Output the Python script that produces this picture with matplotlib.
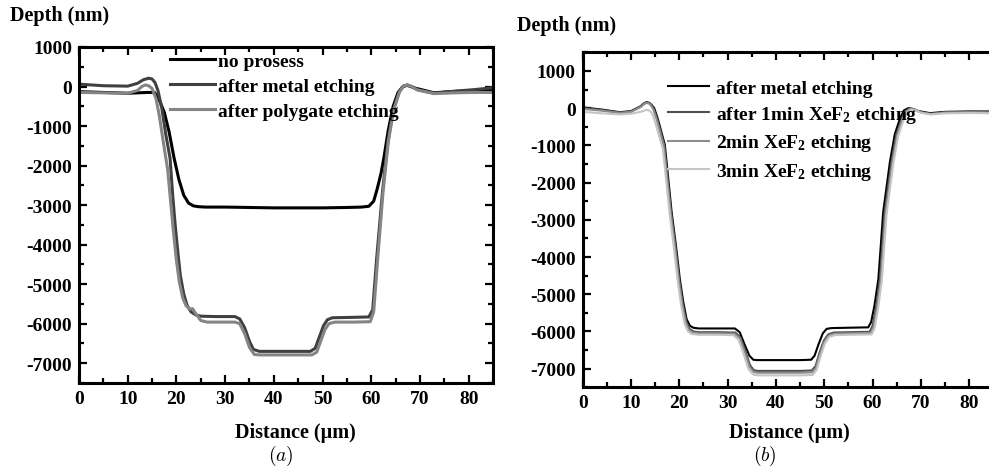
import matplotlib
matplotlib.use('Agg')
import matplotlib.pyplot as plt
from matplotlib.ticker import MultipleLocator

plt.rcParams['font.family'] = ['Liberation Serif', 'DejaVu Serif']
plt.rcParams['font.weight'] = 'bold'
plt.rcParams['axes.unicode_minus'] = False
plt.rcParams['mathtext.fontset'] = 'custom'
plt.rcParams['mathtext.rm'] = 'Liberation Serif:bold'
plt.rcParams['mathtext.bf'] = 'Liberation Serif:bold'
plt.rcParams['mathtext.it'] = 'Liberation Serif:bold:italic'

# ---- panel (a) data: depth profiles (nm) vs distance (um)
a_none_x = [0, 5, 10, 14, 15.5, 16.5, 17.5, 18.5, 19.5, 20.5, 21.5, 22.5, 23.5, 24.5, 26, 30, 35, 40, 45, 50, 55,
            58, 59.5, 60.5, 61.2, 62, 62.6, 63.5, 64.5, 65.5, 66.5, 67.4, 69, 72.9, 76, 80, 85]
a_none_y = [-130, -150, -170, -150, -150, -350, -650, -1150, -1800, -2350, -2750, -2950, -3020, -3040, -3050,
            -3050, -3060, -3070, -3070, -3070, -3060, -3050, -3030, -2900, -2600, -2200, -1800, -1100, -500,
            -150, 0, 30, -40, -160, -130, -110, -90]

a_metal_x = [0, 5, 10, 12, 13.2, 14.3, 15, 15.6, 16.2, 17, 17.8, 18.7, 19.2, 19.75, 20.3, 20.8, 21.5, 22.2, 23,
             24, 25, 28, 32, 33, 34, 35, 35.8, 37, 42, 47.5, 48.5, 49.3, 50.2, 51, 52, 56, 59.5, 60.3, 61.1,
             62.3, 63.4, 64.5, 65.7, 66.6, 67.4, 68.3, 69.5, 72.9, 77, 81, 85]
a_metal_y = [60, 20, 10, 80, 170, 210, 190, 100, -100, -550, -1200, -1820, -2700, -3510, -4200, -4780, -5250,
             -5540, -5700, -5780, -5810, -5820, -5820, -5880, -6100, -6450, -6650, -6700, -6700, -6700, -6620,
             -6350, -6050, -5900, -5850, -5840, -5830, -5650, -4360, -2670, -1400, -600, -130, 10, 40, 0, -80,
             -170, -120, -80, -30]

a_poly_x = [0, 5, 10, 12, 12.9, 13.6, 14.3, 15, 15.8, 16.5, 17.3, 18.2, 18.8, 19.4, 20, 20.6, 21.3, 22, 22.7,
            23.3, 24, 25, 26.3, 29, 32, 33, 34, 35, 36, 37, 42, 47.8, 48.8, 49.6, 50.5, 51.3, 52.5, 56, 59.8,
            60.5, 61.3, 62.4, 63.5, 64.6, 65.8, 66.6, 67.4, 68.3, 69.5, 72.9, 77, 81, 85]
a_poly_y = [-150, -160, -170, -100, 0, 40, 20, -50, -300, -750, -1400, -2100, -2900, -3700, -4400, -4950,
            -5350, -5550, -5630, -5620, -5750, -5920, -5960, -5960, -5960, -6000, -6250, -6600, -6780, -6790,
            -6790, -6790, -6720, -6450, -6150, -6000, -5960, -5960, -5950, -5700, -4400, -2700, -1400, -600,
            -140, 10, 40, 0, -90, -180, -160, -150, -150]

# ---- panel (b) data
b_metal_x = [0, 4, 7.7, 10, 12, 12.6, 13.2, 13.8, 14.3, 14.8, 15.5, 16.2, 17, 18.4, 19.3, 20.1, 20.8, 21.5,
             22.2, 22.9, 24, 28, 31.5, 32.5, 33.5, 34.5, 35.3, 36, 40, 45, 47.3, 48, 48.8, 49.7, 50.5, 51.5, 55,
             59.1, 59.7, 60.4, 61.2, 62.2, 63.6, 64.6, 65.7, 66.5, 67.4, 68.3, 69.5, 71.9, 75, 80, 85]
b_metal_y = [20, -40, -110, -80, 50, 120, 160, 140, 80, 0, -270, -600, -990, -2790, -3700, -4590, -5200,
             -5670, -5850, -5900, -5920, -5920, -5920, -6020, -6350, -6650, -6760, -6770, -6770, -6770, -6760,
             -6650, -6350, -6050, -5930, -5910, -5900, -5890, -5750, -5300, -4590, -2790, -1440, -700, -270,
             -60, 0, -20, -80, -135, -100, -90, -90]

b_1min_x = [0, 4, 7.7, 10, 12, 12.6, 13.2, 13.8, 14.2, 14.7, 15.4, 16.1, 16.9, 18.3, 19.2, 20.0, 20.7, 21.4,
            22.1, 22.9, 24, 28, 31.6, 32.6, 33.6, 34.6, 35.4, 36.2, 40, 45, 47.4, 48.2, 49.0, 49.9, 50.8, 51.9,
            55, 59.4, 60.0, 60.7, 61.5, 62.5, 63.9, 64.9, 66.0, 66.8, 67.6, 68.5, 69.7, 72, 75, 80, 85]
b_1min_y = [0, -50, -120, -90, 40, 110, 150, 130, 70, -20, -290, -620, -1010, -2800, -3720, -4620, -5250,
            -5720, -5930, -6000, -6020, -6020, -6030, -6150, -6500, -6900, -7040, -7060, -7060, -7060, -7050,
            -6930, -6580, -6250, -6080, -6030, -6020, -6010, -5850, -5350, -4600, -2800, -1450, -720, -290,
            -80, -10, -30, -100, -150, -110, -100, -110]

b_2min_x = [0, 4, 7.7, 10, 12, 12.6, 13.2, 13.8, 14.2, 14.6, 15.3, 16.0, 16.8, 18.2, 19.1, 19.9, 20.6, 21.3,
            22.0, 22.8, 24, 28, 31.4, 32.5, 33.5, 34.5, 35.4, 36.2, 40, 45, 47.5, 48.3, 49.1, 50.0, 50.9, 52.0,
            55, 59.6, 60.2, 60.9, 61.7, 62.7, 64.1, 65.1, 66.2, 67.0, 67.8, 68.7, 69.9, 72, 75, 80, 85]
b_2min_y = [-20, -70, -130, -100, 30, 100, 140, 120, 60, -30, -300, -640, -1030, -2820, -3740, -4640, -5280,
            -5750, -5960, -6030, -6050, -6050, -6060, -6180, -6540, -6950, -7090, -7110, -7110, -7110, -7100,
            -6970, -6620, -6280, -6110, -6060, -6050, -6040, -5880, -5380, -4620, -2820, -1460, -730, -300,
            -90, -20, -40, -110, -160, -120, -110, -120]

b_3min_x = [0, 4, 7.7, 10, 12, 12.6, 13.2, 13.7, 14.1, 14.5, 15.1, 15.8, 16.6, 18.0, 18.9, 19.7, 20.4, 21.1,
            21.8, 22.6, 24, 28, 31.2, 32.3, 33.3, 34.3, 35.3, 36.2, 40, 45, 47.6, 48.4, 49.2, 50.1, 51.0, 52.2,
            55, 59.8, 60.4, 61.1, 61.9, 62.9, 64.3, 65.3, 66.4, 67.2, 68.0, 68.9, 70.1, 72, 75, 80, 85]
b_3min_y = [-100, -140, -170, -150, -100, -70, -50, -60, -100, -180, -420, -740, -1100, -2850, -3780, -4680,
            -5320, -5800, -6000, -6070, -6090, -6090, -6100, -6230, -6600, -7010, -7160, -7180, -7180, -7180,
            -7170, -7040, -6680, -6330, -6150, -6100, -6090, -6080, -5920, -5420, -4650, -2850, -1480, -750,
            -320, -110, -40, -60, -130, -170, -140, -130, -140]

a_labels = ['no prosess', 'after metal etching', 'after polygate etching']
b_labels = ['after metal etching', 'after 1min XeF$_2$ etching', '2min XeF$_2$ etching', '3min XeF$_2$ etching']


def style_axes(ax, ymin, ymax, right=True):
    ax.set_xlim(0, 85)
    ax.set_ylim(ymin, ymax)
    ax.xaxis.set_major_locator(MultipleLocator(10))
    ax.xaxis.set_minor_locator(MultipleLocator(5))
    ax.yaxis.set_major_locator(MultipleLocator(1000))
    ax.yaxis.set_minor_locator(MultipleLocator(500))
    ax.tick_params(which='both', direction='in', top=True, right=right, width=1.6, labelsize=14, pad=5)
    ax.tick_params(which='major', length=6)
    ax.tick_params(which='minor', length=3.5)
    for s in ax.spines.values():
        s.set_linewidth(2.2)


fig = plt.figure(figsize=(9.89, 4.77), dpi=100)

# panel (a)
ax = fig.add_axes([0.0799, 0.195, 0.4186, 0.7044])
ax.plot(a_none_x, a_none_y, color='#000000', lw=2.2, label=a_labels[0])
ax.plot(a_metal_x, a_metal_y, color='#404040', lw=2.2, label=a_labels[1])
ax.plot(a_poly_x, a_poly_y, color='#858585', lw=2.2, label=a_labels[2])
style_axes(ax, -7500, 1000)
ax.legend(loc='upper left', bbox_to_anchor=(0.22, 0.985), frameon=False, fontsize=14, borderpad=0,
          borderaxespad=0, handlelength=2.3, handletextpad=0.15, labelspacing=0.38)

# panel (b)
ax = fig.add_axes([0.5892, 0.186, 0.4152, 0.7023])
ax.plot(b_metal_x, b_metal_y, color='#000000', lw=1.5, label=b_labels[0])
ax.plot(b_1min_x, b_1min_y, color='#505050', lw=1.5, label=b_labels[1])
ax.plot(b_2min_x, b_2min_y, color='#8c8c8c', lw=1.5, label=b_labels[2])
ax.plot(b_3min_x, b_3min_y, color='#c4c4c4', lw=1.5, label=b_labels[3])
style_axes(ax, -7500, 1500, right=False)
ax.legend(loc='upper left', bbox_to_anchor=(0.208, 0.92), frameon=False, fontsize=14, borderpad=0,
          borderaxespad=0, handlelength=2.1, handletextpad=0.35, labelspacing=0.38)

# labels placed as in the original figure
fig.text(10 / 989, 1 - 16 / 477, 'Depth (nm)', fontsize=14.5, ha='left', va='center')
fig.text(517 / 989, 1 - 26 / 477, 'Depth (nm)', fontsize=14.5, ha='left', va='center')
fig.text(295 / 989, 1 - 433 / 477, 'Distance (\u00b5m)', fontsize=14.5, ha='center', va='center')
fig.text(789 / 989, 1 - 433 / 477, 'Distance (\u00b5m)', fontsize=14.5, ha='center', va='center')
fig.text(281 / 989, 1 - 456 / 477, r'$(a)$', fontsize=14, ha='center', va='center', math_fontfamily='cm')
fig.text(765 / 989, 1 - 456 / 477, r'$(b)$', fontsize=14, ha='center', va='center', math_fontfamily='cm')

fig.savefig('out.png', dpi=100)
